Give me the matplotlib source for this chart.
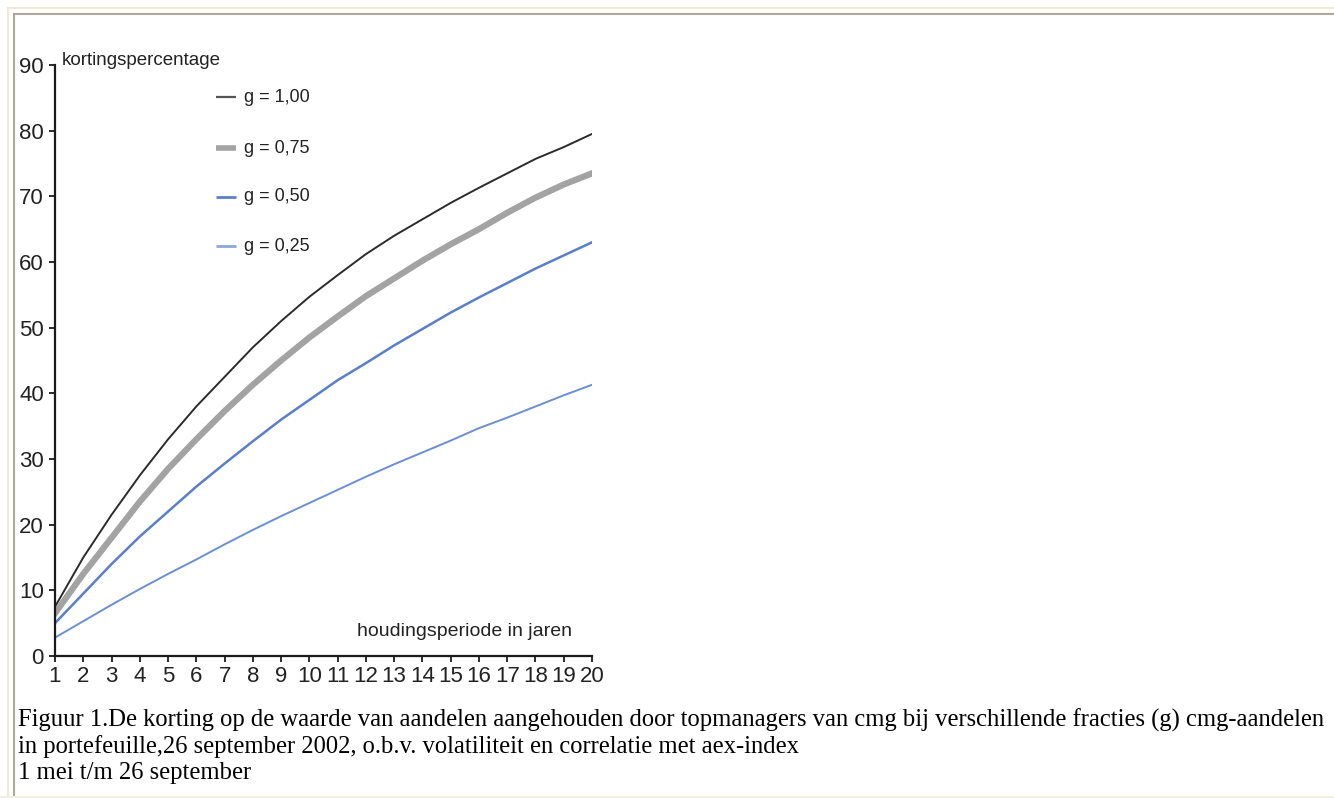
import matplotlib
matplotlib.use("Agg")
import matplotlib.pyplot as plt
from matplotlib.lines import Line2D

# houdingsperiode in jaren
jaren = list(range(1, 21))

# kortingspercentage per fractie g
g100 = [7.5, 15, 21.5, 27.5, 33, 38, 42.5, 47, 51, 54.7, 58, 61.2, 64, 66.5, 69, 71.3, 73.5, 75.7, 77.5, 79.5]
g075 = [6.5, 12.5, 18, 23.5, 28.5, 33, 37.3, 41.3, 45, 48.5, 51.7, 54.8, 57.5, 60.2, 62.7, 65, 67.5, 69.8, 71.8, 73.5]
g050 = [5, 9.5, 14, 18.2, 22, 25.8, 29.3, 32.7, 36, 39, 42, 44.6, 47.3, 49.8, 52.3, 54.6, 56.8, 59, 61, 63]
g025 = [2.8, 5.3, 7.8, 10.2, 12.5, 14.7, 17, 19.2, 21.3, 23.3, 25.3, 27.3, 29.2, 31, 32.8, 34.7, 36.3, 38, 39.7, 41.3]

labels = ["g = 1,00", "g = 0,75", "g = 0,50", "g = 0,25"]
yticks = list(range(0, 100, 10))

caption = ("Figuur 1.De korting op de waarde van aandelen aangehouden door topmanagers van cmg bij verschillende fracties (g) cmg-aandelen\n"
           "in portefeuille,26 september 2002, o.b.v. volatiliteit en correlatie met aex-index\n"
           "1 mei t/m 26 september")

sans = ["Liberation Sans", "DejaVu Sans"]
serif = ["Liberation Serif", "DejaVu Serif"]

W, H = 1334, 798
fig = plt.figure(figsize=(W / 100, H / 100), dpi=100)

# window frame
fig.add_artist(Line2D([8 / W, 8 / W], [0, 1 - 8 / H], color="#ece9d8", lw=1.5))
fig.add_artist(Line2D([8 / W, 1], [1 - 8 / H, 1 - 8 / H], color="#ece9d8", lw=1.5))
fig.add_artist(Line2D([14 / W, 14 / W], [0, 1 - 14 / H], color="#aca899", lw=1.5))
fig.add_artist(Line2D([14 / W, 1], [1 - 14 / H, 1 - 14 / H], color="#aca899", lw=1.5))
fig.add_artist(Line2D([0, 1], [1.5 / H, 1.5 / H], color="#f1efe2", lw=1.5))

ax = fig.add_axes([55 / W, (H - 656) / H, (592 - 55) / W, (656 - 65) / H])
ax.plot(jaren, g100, color="#2b2b2b", lw=1.4)
ax.plot(jaren, g075, color="#a3a3a3", lw=4.5)
ax.plot(jaren, g050, color="#5a7fc8", lw=1.8)
ax.plot(jaren, g025, color="#6b8fd2", lw=1.4)

ax.set_xlim(1, 20)
ax.set_ylim(0, 90)
ax.set_xticks(jaren)
ax.set_yticks(yticks)
ax.spines["top"].set_visible(False)
ax.spines["right"].set_visible(False)
for s in ("left", "bottom"):
    ax.spines[s].set_linewidth(1.6)
    ax.spines[s].set_color("#1a1a1a")
ax.tick_params(direction="out", length=4, width=1.3, color="#1a1a1a", labelsize=16)
ax.tick_params(axis="y", pad=4)
ax.tick_params(axis="x", pad=3)
for lab in ax.get_xticklabels() + ax.get_yticklabels():
    lab.set_family(sans)
    lab.set_color("#222222")

ax.annotate("kortingspercentage", xy=(1, 90), xytext=(5, 3), textcoords="offset points",
            ha="left", va="center", family=sans, fontsize=13.5, color="#222222",
            annotation_clip=False)
ax.text(19.3, 3.8, "houdingsperiode in jaren", ha="right", va="center",
        family=sans, fontsize=14, color="#222222")

# legend drawn like the original: short line plus label
colors = ["#555555", "#a3a3a3", "#5a7fc8", "#8aa8dc"]
widths = [1.6, 4.0, 2.0, 2.0]
leg_y = [85.1, 77.3, 69.9, 62.4]
for lab, c, w, ly in zip(labels, colors, widths, leg_y):
    ax.plot([6.7, 7.4], [ly, ly], color=c, lw=w, solid_capstyle="butt")
    ax.text(7.7, ly, lab, ha="left", va="center", family=sans, fontsize=13, color="#222222")

fig.text(18 / W, 1 - 746 / H, caption, ha="left", va="center", family=serif,
         fontsize=17.7, color="black", linespacing=1.2)

fig.savefig("out.png", dpi=100)
